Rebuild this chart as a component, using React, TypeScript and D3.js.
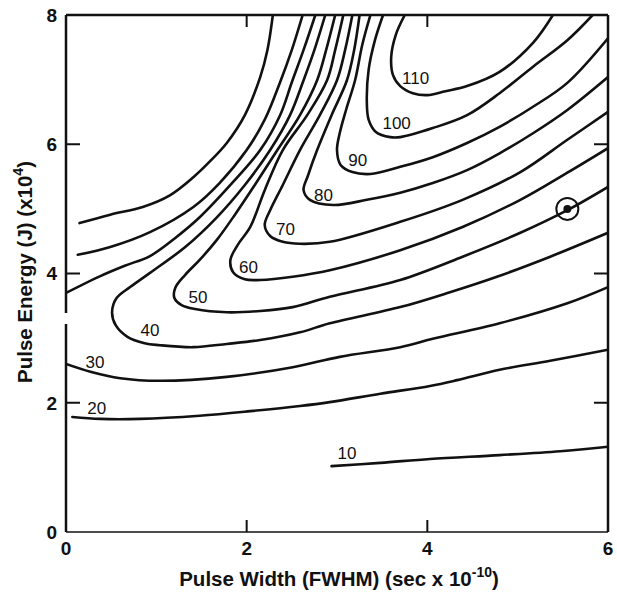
import React from "react";
import * as d3 from "d3";

// Contour lines (pulse width, pulse energy)
const c10 = [[2.94,1.02],[3.48,1.07],[4.03,1.13],[4.80,1.19],[5.47,1.25],[6.0,1.32]];
const c20 = [[0.07,1.78],[0.38,1.75],[0.82,1.75],[1.48,1.80],[2.04,1.87],[2.59,1.95],[2.92,2.01],[3.48,2.14],[4.03,2.26],[4.33,2.35],[4.80,2.51],[5.36,2.65],[6.0,2.82]];
const c30 = [[0,2.60],[0.27,2.48],[0.60,2.38],[1.04,2.34],[1.78,2.40],[2.51,2.55],[3.03,2.71],[3.70,2.86],[4.06,2.99],[4.80,3.23],[5.55,3.54],[6.0,3.79]];
const c40 = [[2.87,8.0],[2.75,7.46],[2.63,6.99],[2.48,6.45],[2.26,5.91],[1.98,5.37],[1.67,4.87],[1.32,4.41],[0.93,4.01],[0.71,3.79],[0.56,3.62],[0.51,3.40],[0.55,3.20],[0.68,3.02],[0.87,2.92],[1.04,2.89],[1.41,2.86],[1.78,2.91],[2.15,2.97],[2.59,3.09],[2.92,3.23],[3.70,3.48],[4.25,3.71],[4.77,3.95],[5.36,4.26],[6.0,4.63]];
const c50 = [[2.98,8.0],[2.88,7.46],[2.78,6.99],[2.59,6.45],[2.34,5.91],[2.09,5.37],[1.87,4.91],[1.67,4.52],[1.48,4.21],[1.32,3.98],[1.21,3.78],[1.20,3.62],[1.28,3.51],[1.43,3.45],[1.78,3.40],[2.15,3.42],[2.51,3.48],[2.92,3.64],[3.70,3.90],[4.39,4.26],[5.03,4.63],[5.55,4.98],[6.0,5.34]];
const c60 = [[3.07,8.0],[2.98,7.46],[2.89,6.99],[2.67,6.45],[2.40,5.91],[2.20,5.29],[2.04,4.72],[1.90,4.44],[1.82,4.21],[1.85,4.02],[1.98,3.91],[2.15,3.90],[2.51,3.95],[2.92,4.05],[3.70,4.36],[4.39,4.72],[5.03,5.14],[5.55,5.56],[6.0,5.94]];
const c70 = [[3.17,8.0],[3.09,7.46],[3.00,6.99],[2.81,6.45],[2.59,5.91],[2.40,5.37],[2.26,4.98],[2.20,4.75],[2.26,4.58],[2.40,4.49],[2.59,4.46],[2.92,4.49],[3.70,4.80],[4.39,5.14],[5.03,5.57],[5.55,6.07],[6.0,6.50]];
const c80 = [[3.25,8.0],[3.19,7.46],[3.11,6.99],[2.94,6.45],[2.78,5.91],[2.68,5.52],[2.63,5.29],[2.70,5.14],[2.96,5.06],[3.33,5.14],[3.70,5.25],[4.06,5.40],[4.44,5.60],[4.80,5.86],[5.17,6.17],[5.55,6.53],[6.0,7.04]];
const c90 = [[3.37,8.0],[3.28,7.54],[3.20,6.99],[3.10,6.53],[3.03,6.17],[3.00,5.91],[3.04,5.68],[3.17,5.57],[3.37,5.54],[3.70,5.65],[4.06,5.80],[4.44,6.02],[4.80,6.27],[5.17,6.58],[5.55,6.95],[6.0,7.64]];
const c100 = [[3.51,8.0],[3.42,7.61],[3.35,7.15],[3.33,6.68],[3.35,6.38],[3.43,6.19],[3.59,6.11],[3.70,6.11],[4.06,6.25],[4.44,6.45],[4.80,6.79],[5.17,7.20],[5.55,7.61],[5.83,8.0]];
const c110 = [[3.75,8.0],[3.65,7.69],[3.60,7.35],[3.62,7.07],[3.70,6.90],[3.84,6.79],[4.00,6.76],[4.20,6.82],[4.44,6.90],[4.80,7.12],[5.17,7.57],[5.39,8.0]];
// unlabeled curves in the upper left
const cA = [[0.15,4.78],[0.49,4.91],[0.85,5.03],[1.15,5.21],[1.41,5.49],[1.59,5.73],[1.78,6.02],[1.98,6.45],[2.15,7.04],[2.23,7.46],[2.29,8.0]];
const cB = [[0.13,4.29],[0.49,4.41],[0.93,4.64],[1.41,5.03],[1.70,5.40],[2.00,5.91],[2.20,6.38],[2.37,6.96],[2.50,7.46],[2.62,8.0]];
const cC = [[0,3.70],[0.38,3.96],[0.65,4.12],[0.93,4.27],[1.21,4.55],[1.48,4.87],[1.82,5.37],[2.15,5.91],[2.37,6.45],[2.50,6.96],[2.63,7.46],[2.76,8.0]];

const contours = [c10, c20, c30, c40, c50, c60, c70, c80, c90, c100, c110, cA, cB, cC];

const labelTexts = ["10","20","30","40","50","60","70","80","90","100","110"];
const labelX = [3.11,0.34,0.32,0.93,1.46,2.02,2.43,2.85,3.23,3.66,3.87];
const labelY = [1.22,1.92,2.63,3.13,3.64,4.10,4.69,5.21,5.76,6.33,7.03];

const markPoint = [5.55, 5.0];

const xTickValues = [0, 2, 4, 6];
const yTickValues = [0, 2, 4, 6, 8];
const innerTicksX = [2, 4];
const innerTicksY = [2, 4, 6];

const W = 617, H = 595;
const left = 66, right = 608, top = 15, bottom = 532;

export default function App() {
  const x = d3.scaleLinear().domain([0, 6]).range([left, right]);
  const y = d3.scaleLinear().domain([0, 8]).range([bottom, top]);
  const line = d3.line<number[]>().x(d => x(d[0])).y(d => y(d[1])).curve(d3.curveCatmullRom.alpha(0.5));
  const font = "'Liberation Sans', Arial, sans-serif";
  const ink = "#111";
  return (
    <svg width={W} height={H} style={{ position: "absolute", left: 0, top: 0, background: "#fff" }}>
      <defs>
        <clipPath id="plot"><rect x={left} y={top} width={right - left} height={bottom - top} /></clipPath>
      </defs>
      {/* frame */}
      <line x1={left} y1={top} x2={right} y2={top} stroke={ink} strokeWidth={2.5} />
      <line x1={right} y1={top} x2={right} y2={bottom} stroke={ink} strokeWidth={2.5} />
      <line x1={left} y1={bottom} x2={right} y2={bottom} stroke={ink} strokeWidth={1.6} />
      <line x1={left} y1={top} x2={left} y2={313} stroke={ink} strokeWidth={2.5} />
      <line x1={left} y1={324} x2={left} y2={bottom} stroke={ink} strokeWidth={2.5} />
      {/* inward ticks */}
      {innerTicksX.map(t => (
        <g key={"tx" + t}>
          <line x1={x(t)} x2={x(t)} y1={top} y2={top + 12} stroke={ink} strokeWidth={2} />
          <line x1={x(t)} x2={x(t)} y1={bottom} y2={bottom - 12} stroke={ink} strokeWidth={2} />
        </g>
      ))}
      {innerTicksY.map(t => (
        <g key={"ty" + t}>
          <line x1={left} x2={left + 14} y1={y(t)} y2={y(t)} stroke={ink} strokeWidth={2} />
          <line x1={right} x2={right - 14} y1={y(t)} y2={y(t)} stroke={ink} strokeWidth={2} />
        </g>
      ))}
      {/* tick labels */}
      {xTickValues.map(t => (
        <text key={"lx" + t} x={x(t)} y={bottom + 23} textAnchor="middle" fontFamily={font} fontWeight="bold" fontSize={19} fill={ink}>{t}</text>
      ))}
      {yTickValues.map(t => (
        <text key={"ly" + t} x={left - 9} y={y(t)} dy="0.36em" textAnchor="end" fontFamily={font} fontWeight="bold" fontSize={19} fill={ink}>{t}</text>
      ))}
      {/* contours */}
      <g clipPath="url(#plot)">
        {contours.map((c, i) => (
          <path key={"c" + i} d={line(c) || ""} fill="none" stroke={ink} strokeWidth={2.6} strokeLinecap="round" strokeLinejoin="round" />
        ))}
      </g>
      {labelTexts.map((t, i) => (
        <text key={"cl" + t} x={x(labelX[i])} y={y(labelY[i])} dy="0.36em" textAnchor="middle" fontFamily={font} fontSize={17} fill={ink}>{t}</text>
      ))}
      {/* marked operating point */}
      <circle cx={x(markPoint[0])} cy={y(markPoint[1])} r={11} fill="none" stroke={ink} strokeWidth={2} />
      <circle cx={x(markPoint[0])} cy={y(markPoint[1])} r={4} fill={ink} />
      {/* axis titles */}
      <text x={339} y={586} textAnchor="middle" fontFamily={font} fontWeight="bold" fontSize={20.5} fill={ink}>
        Pulse Width (FWHM) (sec x 10<tspan dy={-9} fontSize={14}>-10</tspan><tspan dy={9}>)</tspan>
      </text>
      <text transform={`translate(32,${272}) rotate(-90)`} textAnchor="middle" fontFamily={font} fontWeight="bold" fontSize={20.5} fill={ink}>
        Pulse Energy (J) (x10<tspan dy={-9} fontSize={14}>4</tspan><tspan dy={9}>)</tspan>
      </text>
    </svg>
  );
}
